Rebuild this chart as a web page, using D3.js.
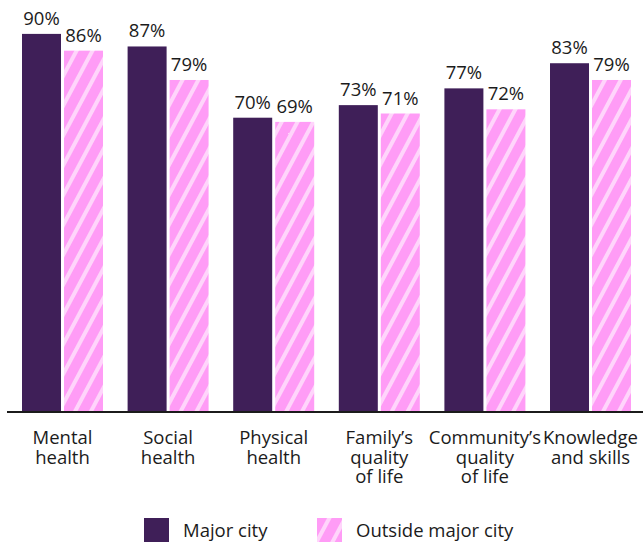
<!DOCTYPE html>
<html>
<head>
<meta charset="utf-8">
<script src="https://cdn.jsdelivr.net/npm/d3@7"></script>
<style>
  html, body { margin: 0; padding: 0; background: #ffffff; }
  svg { display: block; }
  text { font-family: "Open Sans", "Noto Sans", sans-serif; fill: #1b1b1b; }
</style>
</head>
<body>
<svg id="chart" width="643" height="542"></svg>
<script>
// Share of respondents reporting a positive impact, by area of life
const categories = [
  ["Mental", "health"],
  ["Social", "health"],
  ["Physical", "health"],
  ["Family\u2019s", "quality", "of life"],
  ["Community\u2019s", "quality", "of life"],
  ["Knowledge", "and skills"]
];
const seriesNames = ["Major city", "Outside major city"];
const majorCity = [90, 87, 70, 73, 77, 83];
const outsideMajorCity = [86, 79, 69, 71, 72, 79];

const svg = d3.select("#chart");
const W = 643, H = 542;

const purple = "#3f1f58";
const pink = "#ff9cf6";
const pinkStripe = "#ffd5fb";

// diagonal stripe fill for the second series
const defs = svg.append("defs");
const pat = defs.append("pattern")
  .attr("id", "stripes")
  .attr("patternUnits", "userSpaceOnUse")
  .attr("width", 14)
  .attr("height", 14)
  .attr("patternTransform", "rotate(28)");
pat.append("rect").attr("width", 14).attr("height", 14).attr("fill", pink);
pat.append("rect").attr("x", 0).attr("y", 0).attr("width", 4).attr("height", 14).attr("fill", pinkStripe);

const catKeys = categories.map(c => c.join(" "));
const x0 = d3.scaleBand().domain(catKeys).range([22, 631]).paddingInner(0.233).paddingOuter(0);
const x1 = d3.scaleBand().domain(seriesNames).range([0, x0.bandwidth()]).paddingInner(0.0714).paddingOuter(0);
const y = d3.scaleLinear().domain([0, 100]).range([411, -8]);

const rows = catKeys.map((k, i) => ({
  key: k,
  lines: categories[i],
  values: [
    { series: seriesNames[0], value: majorCity[i] },
    { series: seriesNames[1], value: outsideMajorCity[i] }
  ]
}));

const fills = { "Major city": purple, "Outside major city": "url(#stripes)" };

const groups = svg.append("g").selectAll("g")
  .data(rows)
  .join("g")
  .attr("transform", d => `translate(${x0(d.key)},0)`);

groups.selectAll("rect")
  .data(d => d.values)
  .join("rect")
  .attr("x", d => x1(d.series))
  .attr("y", d => y(d.value))
  .attr("width", x1.bandwidth())
  .attr("height", d => y(0) - y(d.value))
  .attr("fill", d => fills[d.series]);

groups.selectAll("text.val")
  .data(d => d.values)
  .join("text")
  .attr("class", "val")
  .attr("x", d => x1(d.series) + x1.bandwidth() / 2)
  .attr("y", d => y(d.value) - 9)
  .attr("text-anchor", "middle")
  .style("font-size", "18.5px")
  .text(d => d.value + "%");

// baseline axis
const xAxis = d3.axisBottom(x0).tickSize(0).tickFormat("");
const axisG = svg.append("g")
  .attr("transform", `translate(0,${y(0) + 1})`)
  .call(xAxis);
axisG.select(".domain").remove();
axisG.append("line")
  .attr("x1", 7).attr("x2", W)
  .attr("stroke", "#1b1b1b")
  .attr("stroke-width", 2);

// multi-line category labels
axisG.selectAll(".tick").each(function (d, i) {
  const t = d3.select(this).append("text")
    .attr("text-anchor", "middle")
    .attr("x", 0)
    .style("font-size", "18.5px")
    .attr("fill", "#1b1b1b");
  categories[i].forEach((line, j) => {
    t.append("tspan").attr("x", 0).attr("y", 32 + j * 19.5).text(line);
  });
});

// legend
const legend = svg.append("g");
const legendItems = [
  { name: seriesNames[0], x: 144, fill: purple },
  { name: seriesNames[1], x: 317, fill: "url(#stripes)" }
];
legendItems.forEach(it => {
  legend.append("rect")
    .attr("x", it.x).attr("y", 518)
    .attr("width", 25).attr("height", 25)
    .attr("fill", it.fill);
  legend.append("text")
    .attr("x", it.x + 39).attr("y", 537)
    .style("font-size", "18.5px")
    .text(it.name);
});
</script>
</body>
</html>
